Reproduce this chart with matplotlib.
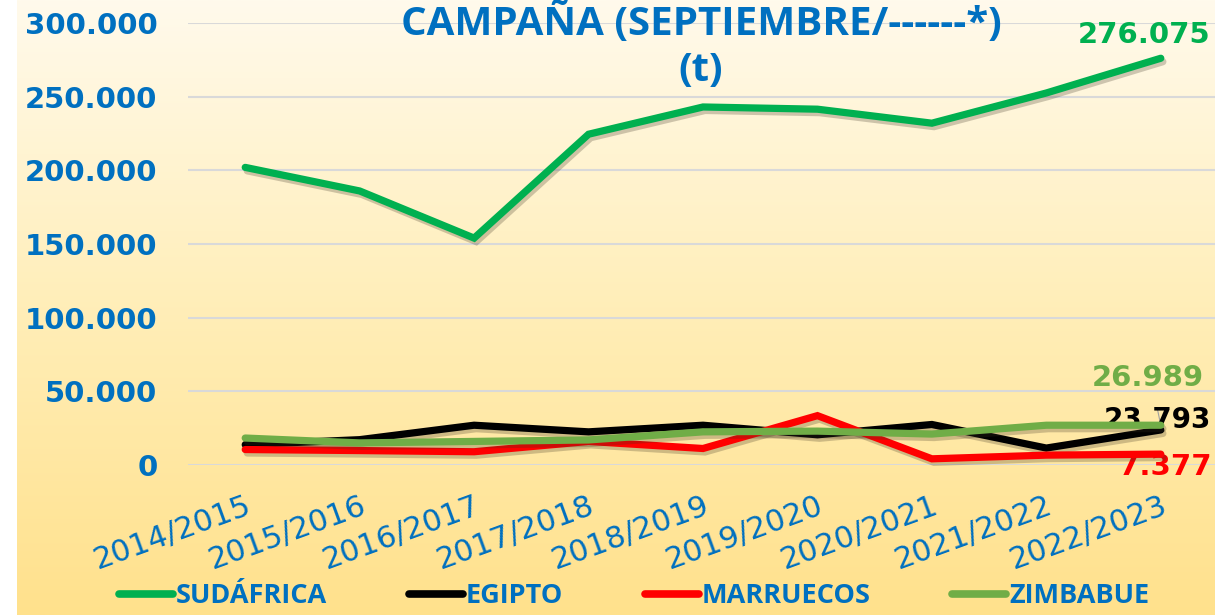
import numpy as np
import matplotlib
matplotlib.use("Agg")
import matplotlib.pyplot as plt
import matplotlib.patheffects as pe
from matplotlib.colors import LinearSegmentedColormap
from matplotlib.lines import Line2D

categories = ["2014/2015", "2015/2016", "2016/2017", "2017/2018", "2018/2019",
              "2019/2020", "2020/2021", "2021/2022", "2022/2023"]
sudafrica = [202000, 186000, 154000, 224500, 243000, 241500, 232000, 252500, 276075]
egipto = [13800, 17200, 27000, 22500, 27000, 20500, 27500, 11500, 23793]
marruecos = [10500, 9800, 9000, 16000, 11200, 33500, 4200, 6700, 7377]
zimbabue = [18300, 15000, 16000, 17000, 22500, 23000, 21000, 27000, 26989]
series_names = ["SUDÁFRICA", "EGIPTO", "MARRUECOS", "ZIMBABUE"]
yticks = [0, 50000, 100000, 150000, 200000, 250000, 300000]

BLUE = "#0070C0"
colors = ["#00B050", "#000000", "#FF0000", "#70AD47"]
plt.rcParams['font.family'] = ['Open Sans', 'DejaVu Sans']
NUMFONT = ['DejaVu Sans']

W, H = 1215, 615
fig = plt.figure(figsize=(W / 100, H / 100), dpi=100)

# background gradient
bg = fig.add_axes([17 / W, 0, 1 - 17 / W, 1], zorder=-10)
cmap = LinearSegmentedColormap.from_list("bg", ["#FFFAEC", "#FFEEB8", "#FFE18C"])
grad = np.linspace(0, 1, 256).reshape(-1, 1)
bg.imshow(grad, aspect="auto", cmap=cmap, extent=[0, 1, 0, 1], origin="upper")
bg.set_axis_off()

ax = fig.add_axes([188 / W, 150 / H, 1030 / W, 442 / H])
ax.set_facecolor("none")
x = np.arange(len(categories))
data = [sudafrica, egipto, marruecos, zimbabue]
shadow = [pe.SimpleLineShadow(offset=(1.5, -2.5), shadow_color="#3a3020", alpha=0.25), pe.Normal()]
for i in range(4):
    ax.plot(x, data[i], color=colors[i], lw=5.2, solid_capstyle="round",
            solid_joinstyle="miter", path_effects=shadow, clip_on=False,
            zorder=3 + i, label=series_names[i])

ax.set_xlim(-0.5, 8.5)
ax.set_ylim(0, 300000)
ax.set_yticks(yticks)
ax.set_yticklabels([f"{v:,}".replace(",", ".") for v in yticks],
                   family=NUMFONT, fontweight="bold", fontsize=21)
ax.grid(axis="y", color="#D9D9D9", lw=1.5)
ax.set_axisbelow(True)
for s in ax.spines.values():
    s.set_visible(False)
ax.tick_params(axis="both", length=0, colors=BLUE)
ax.tick_params(axis="y", pad=22)
ax.set_xticks(x)
ax.set_xticklabels(categories, rotation=20, ha="right", rotation_mode="anchor",
                   fontsize=22, color=BLUE, family=NUMFONT)
ax.tick_params(axis="x", pad=19)

# title
fig.text(0.577, 0.962, "CAMPAÑA (SEPTIEMBRE/------*)", ha="center", va="center",
         fontsize=29, fontweight="bold", color=BLUE)
fig.text(0.577, 0.886, "(t)", ha="center", va="center",
         fontsize=29, fontweight="bold", color=BLUE)

# data labels
ax.annotate("276.075", (8, sudafrica[-1]), xytext=(-12, 16.5), textcoords="offset points",
            ha="center", va="center", fontsize=21, color=colors[0], fontweight="bold",
            family=NUMFONT, annotation_clip=False)
ax.annotate("26.989", (8, zimbabue[-1]), xytext=(-9, 34), textcoords="offset points",
            ha="center", va="center", fontsize=21, color=colors[3], fontweight="bold",
            family=NUMFONT, annotation_clip=False,
            arrowprops=dict(arrowstyle="-", color="#A0A0A0", lw=0.8, shrinkA=10, shrinkB=2,
                            relpos=(0.55, 0.0)))
ax.annotate("23.793", (8, egipto[-1]), xytext=(-2.5, 7), textcoords="offset points",
            ha="center", va="center", fontsize=20, color="black", fontweight="bold",
            family=NUMFONT, annotation_clip=False)
ax.annotate("7.377", (8, marruecos[-1]), xytext=(3, -9), textcoords="offset points",
            ha="center", va="center", fontsize=21, color=colors[2], fontweight="bold",
            family=NUMFONT, annotation_clip=False)

proxy = [Line2D([0], [0], color=colors[i], lw=5.5, solid_capstyle="round") for i in range(4)]
leg = fig.legend(proxy, series_names, loc="lower center", bbox_to_anchor=(0.522, -0.03),
                 ncol=4, frameon=False, fontsize=19.5, handlelength=2.0, handletextpad=0.12,
                 columnspacing=3.0)
for t in leg.get_texts():
    t.set_color(BLUE)
    t.set_fontweight("bold")

fig.savefig("out.png", dpi=100)
